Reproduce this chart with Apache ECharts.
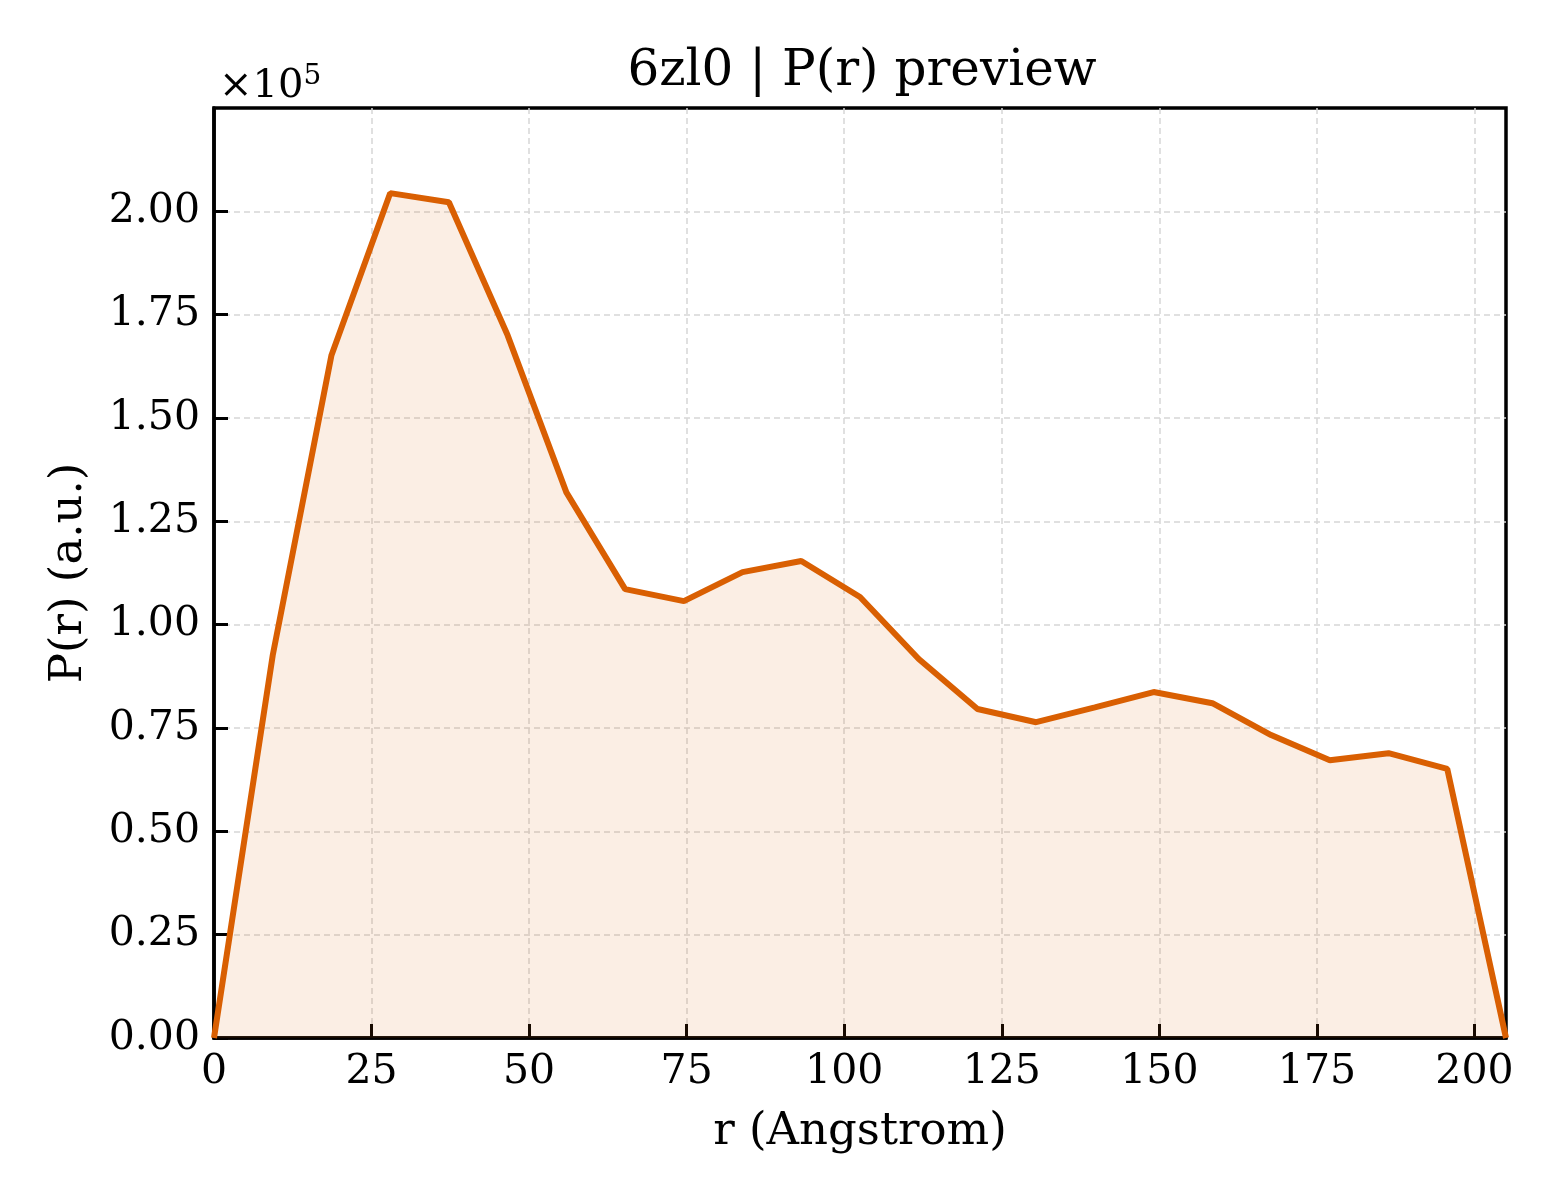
<!DOCTYPE html>
<html>
<head>
<meta charset="utf-8">
<script src="https://cdn.jsdelivr.net/npm/echarts@6/dist/echarts.min.js"></script>
<style>
    html, body { margin: 0; padding: 0; background: #fff; }
    #chart { width: 1560px; height: 1200px; }
</style>
</head>
<body>
<div id="chart"></div>
<script>
// P(r) samples
var r_values = [0, 9.32, 18.64, 27.95, 37.27, 46.59, 55.91, 65.23, 74.55, 83.86, 93.18, 102.5,
    111.82, 121.14, 130.45, 139.77, 149.09, 158.41, 167.73, 177.05, 186.36, 195.68, 205];
var pr_values = [0, 92600, 165200, 204400, 202200, 170000, 132000, 108600, 105700, 112700, 115400, 106700,
    91700, 79600, 76400, 80000, 83700, 81000, 73300, 67200, 68900, 65100, 0];
var x_ticks = [0, 25, 50, 75, 100, 125, 150, 175, 200];
var y_ticks = [0, 25000, 50000, 75000, 100000, 125000, 150000, 175000, 200000];

var serif = 'DejaVu Serif';
var line_color = '#d95f02';

var chart = echarts.init(document.getElementById('chart'));

var series_data = [];
for (var i = 0; i < r_values.length; i++) {
    series_data.push([r_values[i], pr_values[i]]);
}

var option = {
    backgroundColor: '#ffffff',
    animation: false,
    title: [{
        text: '6zl0 | P(r) preview',
        left: 857,
        top: 42,
        textAlign: 'center',
        textStyle: { fontFamily: serif, fontSize: 50, fontWeight: 'normal', color: '#000' }
    }, {
        text: '{a|×10}{b|5}',
        left: 214,
        top: 58,
        textStyle: {
            fontWeight: 'normal',
            rich: {
                a: { fontFamily: serif, fontSize: 40, fontWeight: 'normal', color: '#000' },
                b: { fontFamily: serif, fontSize: 28, fontWeight: 'normal', color: '#000',
                    verticalAlign: 'top', padding: [0, 0, 20, 0] }
            }
        }
    }],
    grid: {
        left: 214, right: 54, top: 108, bottom: 162,
        show: true, borderColor: '#000', borderWidth: 3.5, backgroundColor: 'transparent'
    },
    xAxis: {
        type: 'value',
        min: 0, max: 205, interval: 25,
        name: 'r (Angstrom)',
        nameLocation: 'middle',
        nameGap: 72,
        nameTextStyle: { fontFamily: serif, fontSize: 45, color: '#000' },
        axisLine: { show: true, lineStyle: { color: '#000', width: 3.5 } },
        axisTick: { show: true, inside: true, length: 14, lineStyle: { color: '#000', width: 3 },
            customValues: x_ticks },
        axisLabel: { fontFamily: serif, fontSize: 41, color: '#000', margin: 14,
            customValues: x_ticks, formatter: function (v) { return v; } },
        splitLine: { show: true, lineStyle: { color: '#d6d6d6', width: 1.5, type: [6, 4] } }
    },
    yAxis: {
        type: 'value',
        min: 0, max: 225000, interval: 25000,
        name: 'P(r) (a.u.)',
        nameLocation: 'middle',
        nameGap: 122,
        nameTextStyle: { fontFamily: serif, fontSize: 45, color: '#000' },
        axisLine: { show: true, lineStyle: { color: '#000', width: 3.5 } },
        axisTick: { show: true, inside: true, length: 14, lineStyle: { color: '#000', width: 3 },
            customValues: y_ticks },
        axisLabel: { fontFamily: serif, fontSize: 41, color: '#000', margin: 14,
            customValues: y_ticks, formatter: function (v) { return (v / 1e5).toFixed(2); } },
        splitLine: { show: true, lineStyle: { color: '#d6d6d6', width: 1.5, type: [6, 4] } }
    },
    series: [{
        type: 'line',
        data: series_data,
        showSymbol: false,
        symbol: 'none',
        lineStyle: { color: line_color, width: 6 },
        areaStyle: { color: 'rgba(217,95,2,0.15)' },
        z: 3
    }]
};

chart.setOption(option);
</script>
</body>
</html>
